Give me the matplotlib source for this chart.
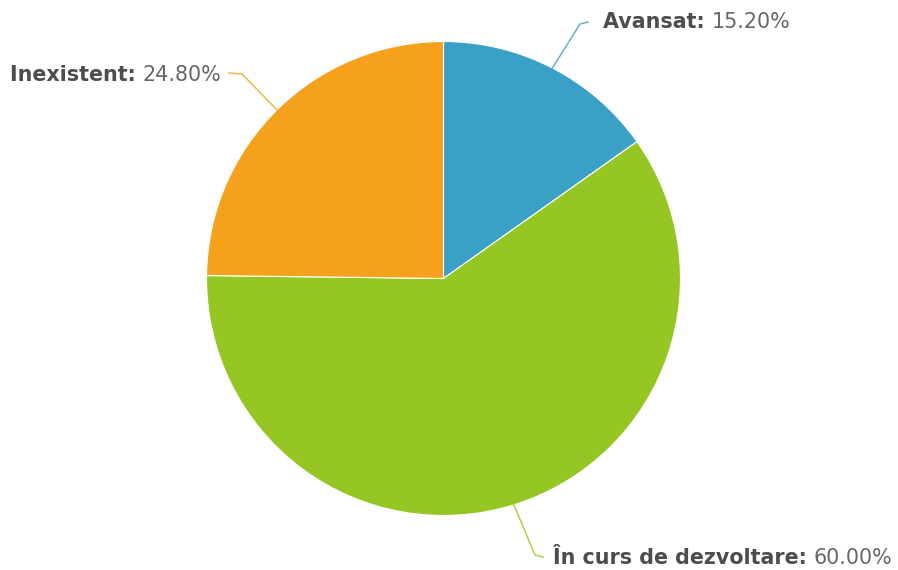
import numpy as np
import matplotlib.pyplot as plt

labels = ['Avansat', 'În curs de dezvoltare', 'Inexistent']
values = [15.20, 60.00, 24.80]
colors = ['#3aa0c6', '#95c623', '#f5a11c']

fig = plt.figure(figsize=(8.98, 5.70), dpi=100)
ax = fig.add_axes([0, 0, 1, 1])

cx, cy, r = 443.5, 291.5, 237
wedges, _ = ax.pie(values, colors=colors, startangle=90, counterclock=False,
                   center=(cx, cy), radius=r, frame=True,
                   wedgeprops=dict(edgecolor='white', linewidth=0.8))
ax.set_xlim(0, 898)
ax.set_ylim(0, 570)
ax.set_aspect('equal')
ax.axis('off')

# label anchor and connector bend/end points, in pixels (y up)
lab_pos = [(603, 548), (553, 12), (10, 495)]
bends = [[(580, 546), (588, 548)],
         [(535, 15), (543, 13)],
         [(242, 496), (229, 497)]]

fig.canvas.draw()
rend = fig.canvas.get_renderer()
for w, lab, val, col, (lx, ly), bend in zip(wedges, labels, values, colors,
                                            lab_pos, bends):
    ang = np.deg2rad((w.theta1 + w.theta2) / 2)
    sx = cx + r * np.cos(ang)
    sy = cy + r * np.sin(ang)
    xs = [sx] + [p[0] for p in bend]
    ys = [sy] + [p[1] for p in bend]
    ax.plot(xs, ys, color=col, lw=1.1, alpha=0.8, solid_joinstyle='round')
    t = ax.text(lx, ly, lab + ': ', fontsize=14.9, fontweight='bold', color='#4d4d4d',
                va='center', ha='left', family='DejaVu Sans')
    bb = t.get_window_extent(rend)
    ax.text(bb.x1, ly, '%.2f%%' % val, fontsize=14.9, color='#666666',
            va='center', ha='left', family='DejaVu Sans')

fig.savefig('out.png', dpi=100)
